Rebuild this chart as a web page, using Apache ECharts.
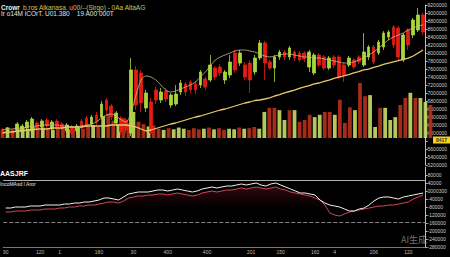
<!DOCTYPE html>
<html><head><meta charset="utf-8">
<script src="https://cdn.jsdelivr.net/npm/echarts@6/dist/echarts.min.js"></script>
<style>html,body{margin:0;padding:0;background:#000;}#c{width:450px;height:257px;}</style>
</head><body><div id="c"></div>
<script>
const categories = ['c1','c2','c3','c4','c5','c6','c7','c8','c9','c10','c11','c12','c13','c14','c15','c16','c17','c18','c19','c20','c21','c22','c23','c24','c25','c26','c27','c28','c29','c30','c31','c32','c33','c34','c35','c36','c37','c38','c39','c40','c41','c42','c43','c44','c45','c46','c47','c48','c49','c50','c51','c52','c53','c54','c55','c56','c57','c58','c59','c60','c61','c62','c63','c64','c65','c66','c67','c68','c69','c70','c71','c72','c73','c74','c75','c76','c77','c78','c79','c80','c81','c82','c83','c84','c85','c86'];
const openData = [350,310,340,350,340,370,340,420,380,450, 360,440,410,340,380,340,440,470,410,500, 480,650,590,420,470,450,320,950,920,570, 630,750,650,740,600,610,730,810,830,810, 800,860,850,970,980,850,900,1120,1020,1000, 1020,930,1070,1220,1030,970,1080,1130,1080,1130, 1120,1120,980,920,1100,1080,970,1080,1080,1000, 1000,1050,1080,1000,1080,1180,1120,1180,1280,1380, 1370,1050,1350,1300,1350,1500];
const closeData = [300,360,300,410,390,430,460,370,440,390, 430,380,360,400,320,390,370,380,480,430, 610,550,480,520,330,350,950,600,620,720, 320,650,730,660,700,710,820,730,750,750, 930,780,1000,880,920,930,1030,950,1120,880, 850,1070,1220,1020,970,1080,1130,1080,1170,1070, 1050,1060,1130,1100,1000,970,1070,1000,880,900, 1070,980,1030,1130,1180,1030,1230,1320,1330,1200, 1080,1300,1200,1450,1500,1330];
const lowData = [280,290,280,330,320,350,320,340,360,370, 340,350,340,320,300,310,350,360,380,400, 460,510,450,390,300,320,290,550,530,530, 290,610,620,630,570,590,700,690,720,710, 770,750,830,850,890,810,870,920,990,850, 720,900,1050,850,950,830,1050,1050,1050,1040, 1030,1030,930,900,980,950,950,970,860,830, 980,960,1010,980,1050,1010,1100,1150,1250,1170, 1050,1030,1150,1270,1330,1300];
const highData = [370,380,360,430,410,450,480,440,460,470, 450,460,430,420,400,410,460,490,500,530, 640,670,610,540,490,470,1070,990,950,750, 670,780,770,770,720,800,850,830,850,840, 950,880,1100,990,1010,950,1100,1150,1150,1030, 1050,1100,1250,1240,1050,1100,1150,1150,1190,1150, 1140,1140,1150,1120,1120,1100,1090,1100,1100,1020, 1090,1070,1100,1320,1200,1200,1250,1340,1350,1400, 1390,1320,1370,1470,1570,1520];
const maLong = [320,330,330,340,340,350,350,360,360,360,370,370,370,380,380,380,380,390,390,390,390,390,400,400,400,400,390,380,360, 340,350,365,380,395,410,420,435,450,465,480,490,505,520,535,550,560,575,590,605,620,630,645,650, 660,672,690,703,722,735,748,766,781,794,812,820,836,848,866,879,892,904,921,933,951,958,977,989,1006,1018,1032,1044,1057,1068, 1090,1120,1150];
const maShort = [350,360,360,370,370,380,390,390,400,400,400,400,390,390,380,380,390,400,410,430,470,500,510,490,450,430, 530,700,850,890,880,850,800,750,730,740, 760,780,800,830,880,930,990,1050,1080,1100, 1120,1140,1150,1150,1140,1130,1110,1090,1080,1090, 1100,1110,1110,1100,1090,1080,1080,1070,1070,1060, 1050,1040,1030,1020,1020,1030,1050,1070,1100,1130, 1170,1210,1250,1280,1300,1320,1350,1370,1390,1400];
const volumeData = [15,18,14,17,19,16,20,15,18,17,14,16,19,15,17,18,16,20,22,19, 38,42,30,24,34,26,45,28,24,20, 22,16,14,17,15,18,16,14,17,15, 16,18,15,17,14,16,15,18,16,17, 19,16,45,52,52,48,31,48,48,28, 31,40,36,40,45,45,40,66,26,53, 48,95,72,74,19,52,52,31,36,57, 69,78,69,69,62,57];
const oscWhite = [39,39,40,40,40,41,41,41,42,42, 42,42,43,43,44,44,45,45,46,47, 49,49,48,47,50,53,54,55,55,55, 56,57,57,56,57,58,57,56,55,56, 58,59,60,59,60,61,61,62,63,62, 63,64,62,61,63,64,62,60,58,56, 54,54,53,52,47,44,42,41,40,38, 36,36,38,39,42,46,49,50,50,49, 48,50,51,52,53,54];
const oscRed = [35,35,36,36,36,37,37,37,38,38, 38,39,39,40,40,41,41,42,42,43, 44,45,45,44,46,49,50,51,51,52, 52,53,53,52,53,54,53,52,51,52, 54,55,56,55,56,57,57,58,59,58, 59,60,59,58,59,60,58,57,55,54, 53,52,51,49,47,42,34,32,31,33, 35,36,37,38,39,40,41,41,42,42, 43,44,45,48,50,52];
const xTickIndex = [0,7,11,19,26,33,41,50,56,63,67,75,82];
const xTickText = ['90','120','1','180','30','400','400','201','150','160','4','206','120'];
const priceTicks = ['5200000','5400000','5600000','5800000','6000000','6200000','6400000','6600000','6800000','7000000','7200000','7400000','7600000','7800000','8000000','8200000','8400000','8600000','8800000','9000000','9200000'];
const oscTicks = ['-280000','-240000','-200000','-160000','-120000','-80000','-40000','0000300','40000','80000','120000'];
const oscLevels = [67, 25];
const markerText = '8417';

const UP = '#a9d63a', DOWN = '#e31c14', VOL_UP = '#c3d864', VOL_DOWN = '#b3301c';
const chart = echarts.init(document.getElementById('c'), null, {renderer:'svg'});
const ohlc = categories.map((_, i) => [openData[i], closeData[i], lowData[i], highData[i]]);
const volItems = volumeData.map((v, i) => ({value: v, itemStyle: {color: closeData[i] >= openData[i] ? VOL_UP : VOL_DOWN}}));
const isTick = (i) => xTickIndex.indexOf(i) >= 0;
const axisFont = 'Liberation Sans';

chart.setOption({
  backgroundColor: '#000',
  animation: false,
  grid: [
    {left: 0, right: 17, top: 5, height: 160},
    {left: 0, right: 17, top: 167, height: 80},
    {left: 0, right: 17, top: 80, height: 58}
  ],
  xAxis: [
    {type: 'category', gridIndex: 0, data: categories, show: false},
    {type: 'category', gridIndex: 1, data: categories,
      axisLine: {lineStyle: {color: '#777', width: 1}},
      axisTick: {alignWithLabel: true, interval: (i) => isTick(i), length: 2, lineStyle: {color: '#aaa'}},
      axisLabel: {interval: (i) => isTick(i), formatter: (v, i) => { const k = xTickIndex.indexOf(i); return k >= 0 ? xTickText[k] : ''; },
        fontSize: 5, color: '#bbb', margin: 2, fontFamily: axisFont},
      splitLine: {show: false}},
    {type: 'category', gridIndex: 2, data: categories, show: false}
  ],
  yAxis: [
    {type: 'value', gridIndex: 0, position: 'right', min: 0, max: 1600, interval: 80,
      splitLine: {show: false},
      axisLine: {show: true, lineStyle: {color: '#bbb'}},
      axisTick: {show: true, length: 2, lineStyle: {color: '#bbb'}},
      axisLabel: {fontSize: 5, color: '#ccc', margin: 2, fontFamily: axisFont,
        formatter: (v) => { const k = Math.round(v / 80); return k === 3 ? '' : priceTicks[k]; }}},
    {type: 'value', gridIndex: 1, position: 'right', min: 0, max: 80, interval: 8,
      splitLine: {show: false},
      axisLine: {show: true, lineStyle: {color: '#bbb'}},
      axisTick: {show: true, length: 2, lineStyle: {color: '#bbb'}},
      axisLabel: {fontSize: 5, color: '#ccc', margin: 2, fontFamily: axisFont, showMaxLabel: false, formatter: (v) => oscTicks[Math.round(v / 8)]}},
    {type: 'value', gridIndex: 2, min: 0, max: 100, show: false}
  ],
  series: [
    {type: 'bar', xAxisIndex: 2, yAxisIndex: 2, data: volItems, barWidth: '75%', z: 1, itemStyle: {opacity: 0.92}},
    {type: 'candlestick', xAxisIndex: 0, yAxisIndex: 0, data: ohlc, barWidth: 3.2, z: 3,
      itemStyle: {color: UP, color0: DOWN, borderColor: UP, borderColor0: DOWN, borderWidth: 0.8}},
    {type: 'line', xAxisIndex: 0, yAxisIndex: 0, data: maLong, symbol: 'none', z: 4,
      lineStyle: {color: '#e8c86a', width: 1.3}},
    {type: 'line', xAxisIndex: 0, yAxisIndex: 0, data: maShort, symbol: 'none', z: 4, smooth: 0.3,
      lineStyle: {color: '#c9b98a', width: 0.8}},
    {type: 'line', xAxisIndex: 1, yAxisIndex: 1, data: oscRed, symbol: 'none', z: 3,
      lineStyle: {color: '#d04858', width: 1},
      areaStyle: {color: new echarts.graphic.LinearGradient(0, 0, 0, 1, [{offset: 0, color: 'rgba(120,20,40,0.55)'}, {offset: 0.35, color: 'rgba(120,20,40,0)'}])}},
    {type: 'line', xAxisIndex: 1, yAxisIndex: 1, data: oscWhite, symbol: 'none', z: 4,
      lineStyle: {color: '#f2f2f2', width: 1},
      markLine: {silent: true, symbol: 'none', label: {show: false},
        data: [
          {yAxis: oscLevels[0], lineStyle: {color: '#b0b0b0', width: 1.2, type: 'solid'}},
          {yAxis: oscLevels[1], lineStyle: {color: '#888', width: 1, type: 'dashed'}}
        ]}}
  ],
  graphic: [
    {type: 'text', left: 1, top: 1, style: {
      text: '{w|Crowr} {y|b.ros Alkanasa. u00/--(Sirgo) - 0Aa AltaAG}',
      rich: {w: {fill: '#f0f0f0', font: 'bold 6.5px Liberation Sans'}, y: {fill: '#d9c25a', font: '6.5px Liberation Sans'}}}},
    {type: 'text', left: 1, top: 10, style: {text: 'Ir o14M iCOrT. U01.380    19 A00 000T', fill: '#e0e0e0', font: '6.5px Liberation Sans'}},
    {type: 'text', left: 0, top: 170, style: {text: 'AASJRF', fill: '#ffffff', font: 'bold 7px Liberation Sans'}},
    {type: 'text', left: 0, top: 181, style: {text: 'IncoMAsd I Aror', fill: '#e8e8e8', font: '5px Liberation Sans'}},
    {type: 'rect', left: 433, top: 136.5, shape: {width: 17, height: 7}, style: {fill: '#f0d41c'}},
    {type: 'text', left: 436, top: 137.5, style: {text: markerText, fill: '#333', font: 'bold 5px Liberation Sans'}},
    {type: 'text', left: 401, top: 235, style: {text: 'AI生成', fill: 'rgba(190,190,190,0.6)', font: '9px "Noto Sans CJK SC"'}}
  ]
});
</script>
</body></html>
